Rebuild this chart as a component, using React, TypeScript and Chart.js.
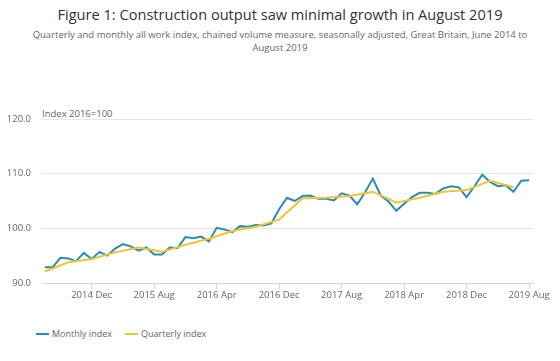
import React, { useEffect, useRef } from "react";
import { Chart, registerables } from "chart.js";

Chart.register(...registerables);

const titleText = "Figure 1: Construction output saw minimal growth in August 2019";
const subtitleLine1 =
  "Quarterly and monthly all work index, chained volume measure, seasonally adjusted, Great Britain, June 2014 to";
const subtitleLine2 = "August 2019";
const yAxisLabel = "Index 2016=100";

// Monthly index, June 2014 .. August 2019 (63 months)
const monthly = [
  92.9, 92.9, 94.6, 94.5, 94.0, 95.5, 94.4, 95.7, 95.0, 96.3, 97.1, 96.7, 95.9,
  96.5, 95.2, 95.2, 96.5, 96.4, 98.4, 98.2, 98.5, 97.6, 100.1, 99.8, 99.3,
  100.4, 100.3, 100.6, 100.5, 100.9, 103.5, 105.6, 105.0, 105.9, 106.0, 105.4,
  105.4, 105.1, 106.4, 106.0, 104.4, 106.6, 109.1, 106.0, 104.9, 103.2, 104.5,
  105.7, 106.5, 106.5, 106.3, 107.3, 107.7, 107.5, 105.7, 107.7, 109.8, 108.5,
  107.7, 107.9, 106.7, 108.7, 108.8,
];

// Quarterly index, plotted at quarter-end months Jun 2014 .. Jun 2019
const quarterly = [
  92.1, 93.8, 94.4, 95.6, 96.5, 95.7, 97.0, 98.1, 99.5, 100.3, 101.6, 105.5,
  105.6, 105.9, 106.7, 104.7, 105.6, 106.7, 107.0, 108.7, 107.5,
];
const quarterMonthStep = 3;

const xTickLabels = ["2014 Dec", "2015 Aug", "2016 Apr", "2016 Dec", "2017 Aug", "2018 Apr", "2018 Dec", "2019 Aug"];
const xTickMonthIndex = [6, 14, 22, 30, 38, 46, 54, 62];
const yTicks = [90, 100, 110, 120];

const BLUE = "#2a8bb9";
const YELLOW = "#efc532";
const FONT = "'Open Sans', sans-serif";
const LABEL = "#666666";

export default function App() {
  const ref = useRef<HTMLCanvasElement | null>(null);

  useEffect(() => {
    if (!ref.current) return;
    const chart = new Chart(ref.current, {
      type: "line",
      data: {
        datasets: [
          {
            label: "Quarterly index",
            data: quarterly.map((v, k) => ({ x: k * quarterMonthStep, y: v })),
            borderColor: YELLOW,
            backgroundColor: YELLOW,
            borderWidth: 2,
            pointRadius: 0,
            tension: 0,
          },
          {
            label: "Monthly index",
            data: monthly.map((v, i) => ({ x: i, y: v })),
            borderColor: BLUE,
            backgroundColor: BLUE,
            borderWidth: 2,
            pointRadius: 0,
            tension: 0,
          },
        ],
      },
      options: {
        responsive: false,
        animation: false,
        devicePixelRatio: 1,
        layout: { padding: { top: 19, right: 27, left: 0, bottom: 0 } },
        plugins: {
          legend: { display: false },
          tooltip: { enabled: false },
          title: { display: false },
        },
        scales: {
          x: {
            type: "linear",
            min: -0.36,
            max: 62.5,
            afterBuildTicks: (s: any) => {
              s.ticks = xTickMonthIndex.map((v) => ({ value: v }));
            },
            afterFit: (s: any) => {
              s.height = 32;
            },
            ticks: {
              autoSkip: false,
              maxRotation: 0,
              padding: 1,
              color: LABEL,
              font: { family: FONT, size: 9.5 },
              callback: (v: any) => {
                const k = xTickMonthIndex.indexOf(Number(v));
                return k >= 0 ? xTickLabels[k] : "";
              },
            },
            grid: { drawOnChartArea: false, drawTicks: true, tickLength: 6, color: "#ccd6eb" },
            border: { display: true, color: "#ccd6eb", width: 1 },
          },
          y: {
            min: 90,
            max: 120,
            afterBuildTicks: (s: any) => {
              s.ticks = yTicks.map((v) => ({ value: v }));
            },
            afterFit: (s: any) => {
              s.width = 42;
            },
            ticks: {
              padding: 11,
              color: LABEL,
              font: { family: FONT, size: 9.5 },
              callback: (v: any) => Number(v).toFixed(1),
            },
            grid: { color: "#e6e6e6", drawTicks: false, lineWidth: 1 },
            border: { display: false },
          },
        },
      },
    });
    return () => chart.destroy();
  }, []);

  return (
    <div
      style={{
        position: "fixed",
        left: 0,
        top: 0,
        width: 560,
        height: 361,
        background: "#ffffff",
        fontFamily: FONT,
        overflow: "hidden",
      }}
    >
      <div
        style={{
          position: "absolute",
          left: 0,
          top: 4,
          width: 560,
          textAlign: "center",
          fontSize: 14.6,
          lineHeight: "20px",
          color: "#333333",
          whiteSpace: "nowrap",
        }}
      >
        {titleText}
      </div>
      <div
        style={{
          position: "absolute",
          left: 0,
          top: 27.5,
          width: 560,
          textAlign: "center",
          fontSize: 9.5,
          lineHeight: "13px",
          color: "#666666",
          whiteSpace: "nowrap",
        }}
      >
        {subtitleLine1}
        <br />
        {subtitleLine2}
      </div>
      <div
        style={{
          position: "absolute",
          left: 42,
          top: 108,
          fontSize: 9.5,
          lineHeight: "12px",
          color: LABEL,
          whiteSpace: "nowrap",
        }}
      >
        {yAxisLabel}
      </div>
      <canvas
        ref={ref}
        width={560}
        height={215}
        style={{ position: "absolute", left: 0, top: 100, width: 560, height: 215 }}
      />
      <div style={{ position: "absolute", left: 36, top: 332.5, width: 13, height: 2, background: BLUE }} />
      <div
        style={{
          position: "absolute",
          left: 52,
          top: 327,
          fontSize: 9,
          lineHeight: "13px",
          color: LABEL,
          whiteSpace: "nowrap",
        }}
      >
        Monthly index
      </div>
      <div style={{ position: "absolute", left: 125, top: 332.5, width: 13, height: 2, background: YELLOW }} />
      <div
        style={{
          position: "absolute",
          left: 141,
          top: 327,
          fontSize: 9,
          lineHeight: "13px",
          color: LABEL,
          whiteSpace: "nowrap",
        }}
      >
        Quarterly index
      </div>
    </div>
  );
}
